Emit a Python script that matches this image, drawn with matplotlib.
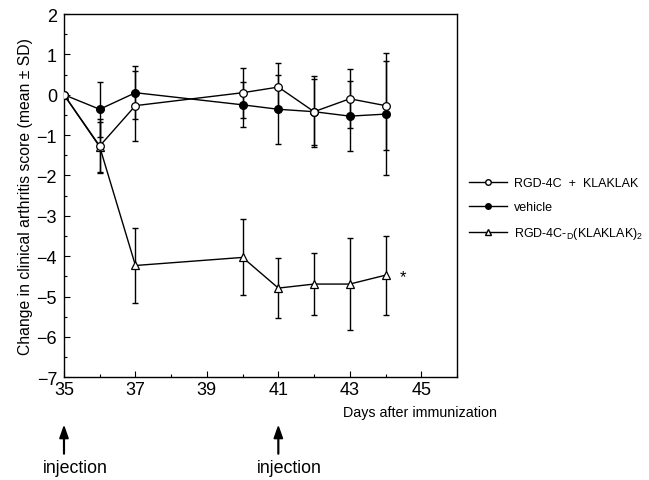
import matplotlib
matplotlib.use("Agg")
import matplotlib.pyplot as plt
from matplotlib.patches import FancyArrow
from matplotlib.ticker import MultipleLocator

plt.rcParams['font.family'] = ['Liberation Sans', 'DejaVu Sans']

# days after immunization
days = [35, 36, 37, 40, 41, 42, 43, 44]

# RGD-4C + KLAKLAK (open circles)
klak_mean = [0, -1.27, -0.27, 0.05, 0.19, -0.42, -0.10, -0.27]
klak_sd = [0, 0.68, 0.87, 0.62, 0.59, 0.88, 0.73, 1.10]

# vehicle (filled circles)
veh_mean = [0, -0.36, 0.05, -0.25, -0.36, -0.42, -0.53, -0.48]
veh_sd = [0, 0.68, 0.65, 0.56, 0.85, 0.82, 0.87, 1.52]

# RGD-4C-D(KLAKLAK)2 (open triangles)
drug_mean = [0, -1.29, -4.23, -4.03, -4.79, -4.69, -4.69, -4.47]
drug_sd = [0, 0.62, 0.92, 0.94, 0.74, 0.76, 1.15, 0.98]

injection_days = [35, 41]
xticks = [35, 37, 39, 41, 43, 45]
yticks = [-7, -6, -5, -4, -3, -2, -1, 0, 1, 2]

fig = plt.figure(figsize=(6.49, 4.81), dpi=100)
ax = fig.add_axes([0.0986, 0.2135, 0.6055, 0.7553])

for m, sd in [(klak_mean, klak_sd), (veh_mean, veh_sd), (drug_mean, drug_sd)]:
    ax.errorbar(days[1:], m[1:], yerr=sd[1:], fmt='none', ecolor='black',
                elinewidth=1.0, capsize=2, capthick=1.0)

ax.plot(days, drug_mean, '-^', color='black', lw=1.0, markersize=6,
        markerfacecolor='white', markeredgewidth=0.9, zorder=3)
ax.plot(days, veh_mean, '-o', color='black', lw=1.0, markersize=5.5,
        markerfacecolor='black', zorder=4)
ax.plot(days, klak_mean, '-o', color='black', lw=1.0, markersize=5.5,
        markerfacecolor='white', markeredgewidth=0.9, zorder=5)

ax.text(44.5, -4.5, '*', fontsize=12, ha='center', va='center')

ax.set_xlim(35, 46)
ax.set_ylim(-7, 2)
ax.set_xticks(xticks)
ax.xaxis.set_minor_locator(MultipleLocator(1))
ax.yaxis.set_minor_locator(MultipleLocator(0.5))
ax.set_yticks(yticks)
ax.set_yticklabels([str(v).replace('-', '\u2212') for v in yticks])
ax.tick_params(which='both', direction='in', labelsize=13, width=0.8)
ax.tick_params(which='major', length=4)
ax.tick_params(which='minor', length=2.5)
ax.tick_params(axis='y', pad=5)
ax.tick_params(axis='x', pad=3)
for s in ax.spines.values():
    s.set_linewidth(1.0)

ax.set_ylabel('Change in clinical arthritis score (mean \u00b1 SD)', fontsize=11.3)
ax.yaxis.set_label_coords(-0.079, 0.5)
fig.text(0.528, 0.133, 'Days after immunization', fontsize=10.3)

for d in injection_days:
    xf = ax.transData.transform((d, 0))[0] / fig.bbox.width
    fig.patches.append(FancyArrow(
        xf, 0.054, 0, 0.057, width=0.0012, head_width=0.013, head_length=0.025,
        color='black', transform=fig.transFigure, length_includes_head=True))
    fig.text(xf + 0.017, 0.025, 'injection', fontsize=12.8, ha='center', va='center')

# legend
h1, = ax.plot([], [], '-o', color='black', lw=1.0, markersize=4, markerfacecolor='white')
h2, = ax.plot([], [], '-o', color='black', lw=1.0, markersize=4, markerfacecolor='black')
h3, = ax.plot([], [], '-^', color='black', lw=1.0, markersize=5, markerfacecolor='white')
fig.legend([h1, h2, h3],
           ['RGD-4C  +  KLAKLAK', 'vehicle', r'RGD-4C-$_\mathregular{D}$(KLAKLAK)$_\mathregular{2}$'],
           loc='center left', bbox_to_anchor=(0.722, 0.563), frameon=False,
           fontsize=9, handlelength=3.1, handletextpad=0.5, labelspacing=0.95,
           borderpad=0, borderaxespad=0)

fig.savefig('out.png', dpi=100)
